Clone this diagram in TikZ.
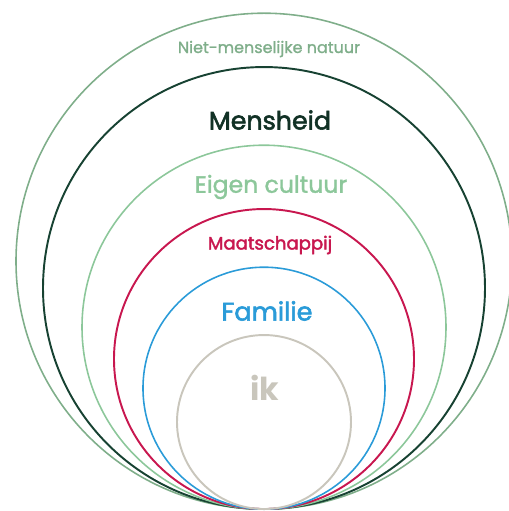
\documentclass[tikz,border=0pt]{standalone}
\usepackage{fontspec}
\setmainfont{Poppins}
\newfontfamily\medfont{Poppins}[FakeBold=1.3]
\newfontfamily\semifont{Poppins}[FakeBold=2.2]
\usetikzlibrary{positioning}
\definecolor{natuurgreen}{HTML}{7FAE8A}
\definecolor{menshgreen}{HTML}{174232}
\definecolor{cultgreen}{HTML}{8CC79A}
\definecolor{maatred}{HTML}{C8174F}
\definecolor{famblue}{HTML}{2A9BD8}
\definecolor{ikgray}{HTML}{C9C6BC}

\begin{document}
\begin{tikzpicture}[x=0.02cm,y=0.02cm,
    ring/.style={circle,draw,inner sep=0pt,anchor=south,line width=0.9pt},
    label node/.style={inner sep=0pt}]
  \useasboundingbox[clip] (0,0) rectangle (509,511);
  \coordinate (base) at (264,1);
  % de cirkels, allemaal rakend aan de onderkant
  \node[ring,draw=natuurgreen,minimum size=496*0.02cm] (natuur) at (base) {};
  \node[ring,draw=menshgreen,line width=1.1pt,minimum size=442*0.02cm] (mensheid) at (base) {};
  \node[ring,draw=cultgreen,minimum size=364*0.02cm] (cultuur) at (base) {};
  \node[ring,draw=maatred,line width=1.1pt,minimum size=300*0.02cm] (maatschappij) at (base) {};
  \node[ring,draw=famblue,minimum size=242*0.02cm] (familie) at (base) {};
  \node[ring,draw=ikgray,line width=1.1pt,minimum size=174*0.02cm] (ik) at (base) {};
  % de labels
  \node[label node,text=natuurgreen,font=\medfont\fontsize{9.1}{11}\selectfont] (tnatuur) at (269,462) {Niet-menselijke natuur};
  \node[label node,text=menshgreen!75!black,font=\semifont\fontsize{14.4}{17}\selectfont] (tmensheid) at (270,391) {Mensheid};
  \node[label node,text=cultgreen,font=\medfont\fontsize{13.4}{16}\selectfont] (tcultuur) at (271,324) {Eigen cultuur};
  \node[label node,text=maatred,font=\semifont\fontsize{10.3}{12}\selectfont] (tmaat) at (270,266) {Maatschappij};
  \node[label node,text=famblue,font=\semifont\fontsize{14.5}{17}\selectfont] (tfamilie) at (267,200) {Familie};
  \node[label node,text=ikgray,font=\fontsize{18}{22}\selectfont\bfseries] (tik) at (265,123) {ik};
\end{tikzpicture}
\end{document}
